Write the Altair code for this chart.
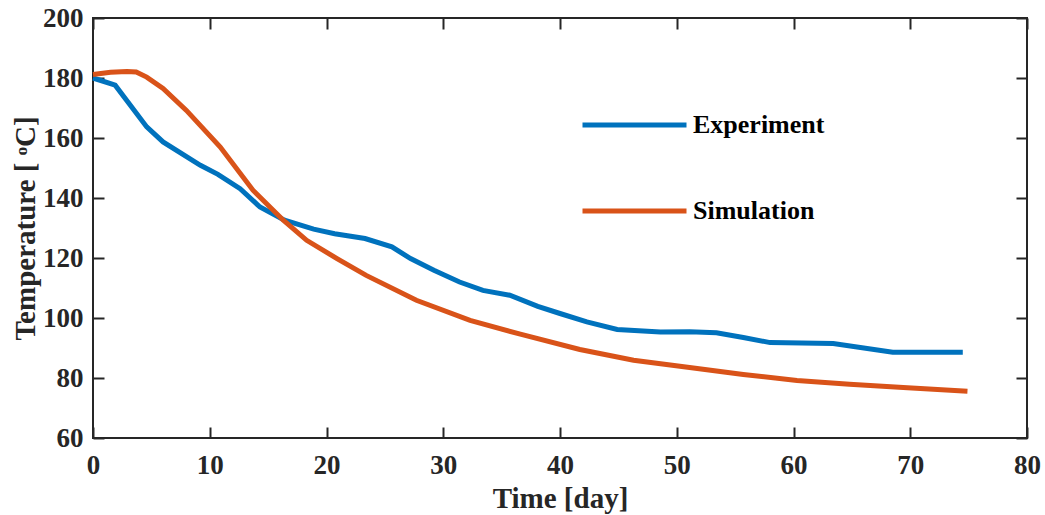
import altair as alt
import pandas as pd

exp_day = [0, 1.9, 4.6, 6.0, 9.2, 10.7, 12.6, 14.3, 16.4, 18.9, 20.7, 23.3, 25.6, 27.2, 29.2,
           31.4, 33.4, 35.7, 38.1, 40.0, 42.3, 44.9, 48.6, 51.1, 53.4, 55.7, 58.0, 63.4, 68.5, 74.5]
exp_temp = [180, 177.6, 163.7, 158.7, 150.9, 147.9, 143.1, 137.0, 132.6, 129.6, 128.1, 126.5, 123.7, 119.8, 115.9,
            112.0, 109.2, 107.6, 103.9, 101.5, 98.7, 96.2, 95.3, 95.4, 95.1, 93.5, 91.8, 91.5, 88.6, 88.6]

sim_day = [0, 1.5, 2.9, 3.7, 4.6, 6.0, 8.0, 10.9, 13.7, 16.3, 18.3, 20.9, 23.4, 27.7, 32.3,
           36.6, 41.7, 46.3, 51.1, 55.7, 60.3, 64.8, 69.4, 74.9]
sim_temp = [181.2, 181.9, 182.2, 182.0, 180.3, 176.5, 169.2, 157.0, 142.6, 132.6, 125.9, 119.8, 114.2, 105.9, 99.2,
            94.6, 89.5, 85.9, 83.5, 81.2, 79.2, 77.9, 76.8, 75.6]

series = ["Experiment", "Simulation"]
colors = ["#0072BD", "#D95319"]
x_ticks = [0, 10, 20, 30, 40, 50, 60, 70, 80]
y_ticks = [60, 80, 100, 120, 140, 160, 180, 200]

df = pd.concat([
    pd.DataFrame({"day": exp_day, "temp": exp_temp, "series": series[0], "order": range(len(exp_day))}),
    pd.DataFrame({"day": sim_day, "temp": sim_temp, "series": series[1], "order": range(len(sim_day))}),
])

FONT = "Liberation Serif"
AX = "#262626"

xs = alt.Scale(domain=[0, 80], nice=False)
ys = alt.Scale(domain=[60, 200], nice=False)

base = alt.Chart(df)

lines = base.mark_line(strokeWidth=5).encode(
    x=alt.X("day:Q", scale=xs, axis=alt.Axis(
        orient="bottom", values=x_ticks, ticks=False, tickSize=0, domain=False, grid=False,
        labelPadding=35, labelBaseline="alphabetic", labelFontSize=27, labelFont=FONT,
        labelFontWeight="bold", labelColor=AX, labelFlush=False,
        title="Time [day]", titleFontSize=29, titleFont=FONT, titleFontWeight="bold",
        titleColor=AX, titleY=69, titleBaseline="alphabetic")),
    y=alt.Y("temp:Q", scale=ys, axis=alt.Axis(
        orient="left", values=y_ticks, ticks=False, tickSize=0, domain=False, grid=False,
        labelPadding=10, labelFontSize=27, labelFont=FONT, labelFontWeight="bold", labelColor=AX,
        labelFlush=False,
        title="Temperature [ ᵒC]", titleFontSize=29, titleFont=FONT, titleFontWeight="bold",
        titleColor=AX, titleX=-68, titleY=210, titleBaseline="middle")),
    color=alt.Color("series:N", scale=alt.Scale(domain=series, range=colors),
                    legend=alt.Legend(title=None, orient="none", legendX=487, legendY=92,
                                      symbolType="stroke", symbolSize=10816, symbolStrokeWidth=5,
                                      labelFont=FONT, labelFontSize=26, labelFontWeight="bold",
                                      labelColor="#000000", clipHeight=30, rowPadding=56,
                                      labelOffset=4, padding=0)),
    order="order:Q",
)


def tick_axis(xo, yo):
    return base.mark_line(opacity=0).encode(
        x=alt.X("day:Q", scale=xs, axis=alt.Axis(
            orient=xo, values=x_ticks, offset=-11, tickSize=11, tickWidth=2, tickColor=AX,
            labels=False, domain=False, grid=False, title=None)),
        y=alt.Y("temp:Q", scale=ys, axis=alt.Axis(
            orient=yo, values=y_ticks, offset=-11, tickSize=11, tickWidth=2, tickColor=AX,
            labels=False, domain=False, grid=False, title=None)),
        detail="series:N",
    )


chart = alt.layer(lines, tick_axis("bottom", "left"), tick_axis("top", "right")).resolve_axis(
    x="independent", y="independent"
).properties(
    width=934, height=420,
    padding={"left": 93, "top": 18, "right": 18, "bottom": 77},
    autosize=alt.AutoSizeParams(type="none"),
    background="white",
).configure_view(stroke=AX, strokeWidth=2)

chart.save("out.html", embed_options={"renderer": "svg", "actions": False})
